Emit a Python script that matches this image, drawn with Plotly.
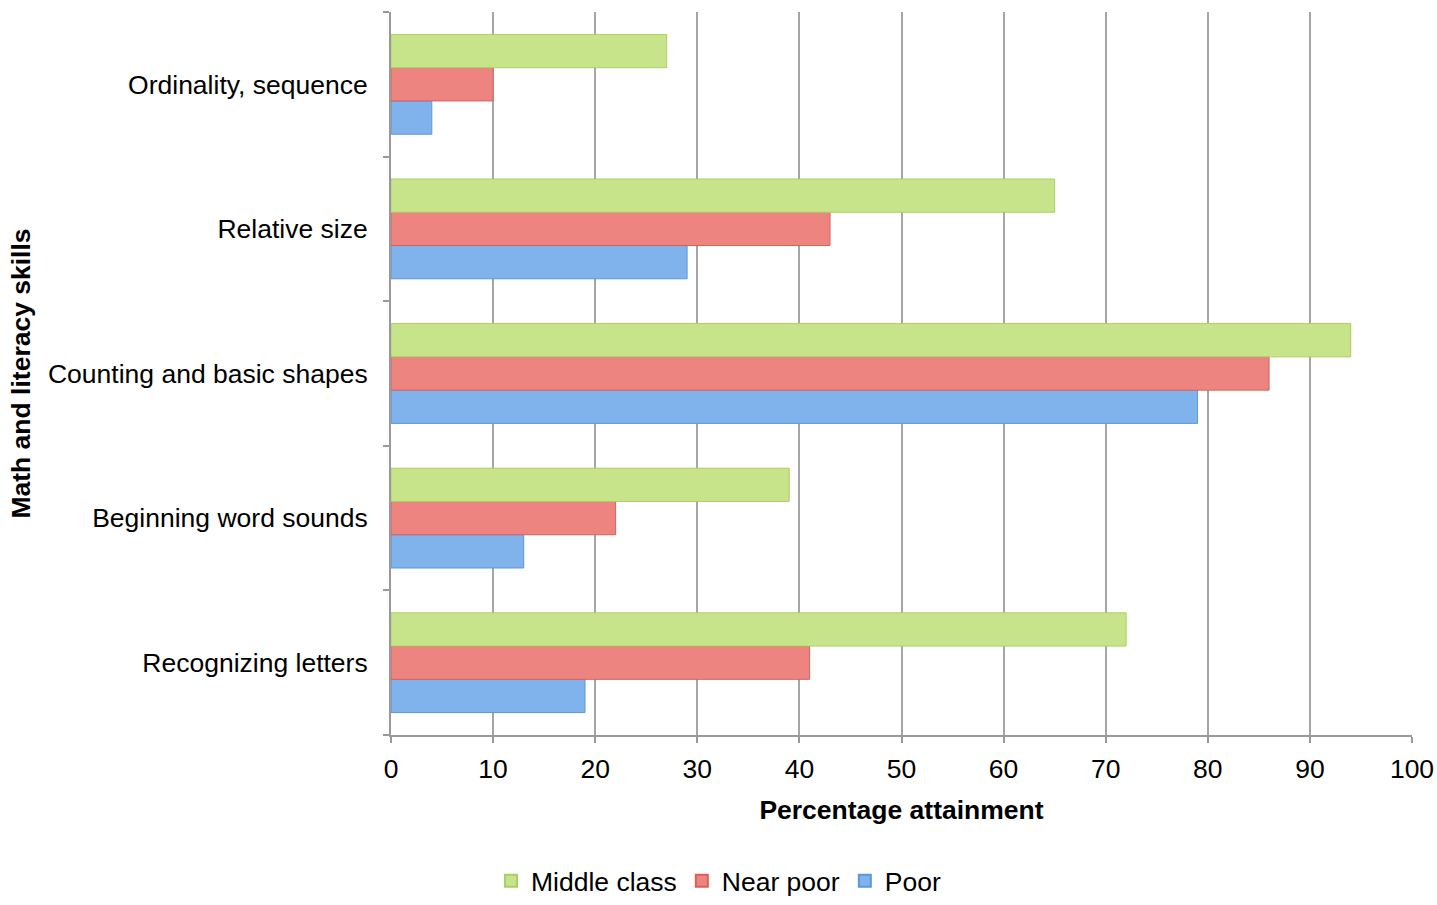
import plotly.graph_objects as go

categories = ["Recognizing letters", "Beginning word sounds", "Counting and basic shapes",
              "Relative size", "Ordinality, sequence"]
poor = [19, 13, 79, 29, 4]
near_poor = [41, 22, 86, 43, 10]
middle_class = [72, 39, 94, 65, 27]
x_ticks = list(range(0, 101, 10))

series = [
    ("Poor", poor, "#80b2eb", "#5b97dc"),
    ("Near poor", near_poor, "#ee8480", "#d9605a"),
    ("Middle class", middle_class, "#c8e48a", "#a9d064"),
]

fig = go.Figure()
for name, vals, col, edge in series:
    fig.add_trace(go.Bar(
        y=categories, x=vals, name=name, orientation="h",
        marker=dict(color=col, line=dict(color=edge, width=1)),
    ))

font_family = "Liberation Sans, Arial, sans-serif"
fs = 26.5
fig.update_layout(
    width=1437, height=905,
    margin=dict(l=391, r=25, t=12, b=170, autoexpand=False),
    paper_bgcolor="white", plot_bgcolor="white",
    barmode="group", bargap=0.31, bargroupgap=0,
    font=dict(family=font_family, size=fs, color="black"),
    showlegend=True,
    legend=dict(orientation="h", traceorder="reversed",
                xref="container", x=0.5, xanchor="center",
                yref="container", y=0.0, yanchor="bottom",
                font=dict(size=fs), itemwidth=30, itemsizing="constant",
                tracegroupgap=0),
    xaxis=dict(
        range=[0, 100], tickvals=x_ticks, ticks="outside", ticklen=6,
        tickcolor="#999999", tickwidth=2,
        showgrid=True, gridcolor="#a6a6a6", gridwidth=2,
        showline=True, linecolor="#999999", linewidth=2,
        zeroline=False, tickfont=dict(size=fs), automargin=False,
        ticklabelstandoff=3,
        title=dict(text="<b>Percentage attainment</b>", font=dict(size=fs), standoff=18),
        fixedrange=True,
    ),
    yaxis=dict(
        categoryorder="array", categoryarray=categories,
        ticks="outside", ticklen=6, tickcolor="#999999", tickwidth=2,
        tickson="boundaries",
        showline=True, linecolor="#999999", linewidth=2,
        showgrid=False, tickfont=dict(size=fs), ticklabelstandoff=16,
        automargin=False,
        title=dict(text="<b>Math and literacy skills</b>", font=dict(size=fs), standoff=10),
        fixedrange=True,
    ),
)

fig.write_html("out.html")
